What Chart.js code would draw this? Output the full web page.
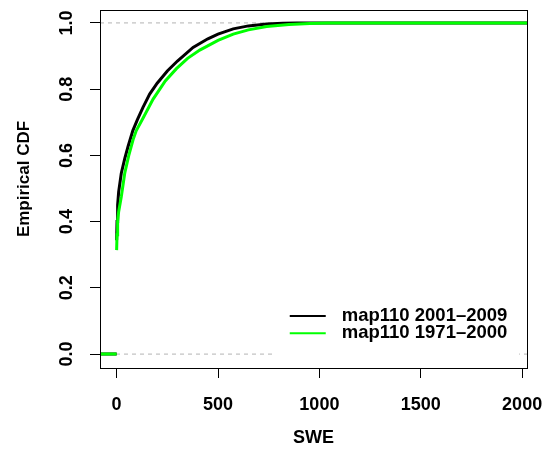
<!DOCTYPE html>
<html>
<head>
<meta charset="utf-8">
<script src="https://cdn.jsdelivr.net/npm/chart.js@4.4.1/dist/chart.umd.min.js"></script>
<style>
html,body{margin:0;padding:0;background:#fff;}
canvas{display:block;}
</style>
</head>
<body>
<canvas id="c" width="548" height="458"></canvas>
<script>
// ---- data ----
const xMin = -82;          // left end of x range
const xMax = 2024;         // right end of x range
const yMin = -0.042;
const yMax = 1.039;
const xTicks = [0, 500, 1000, 1500, 2000];
const yTicks = [0, 0.2, 0.4, 0.6, 0.8, 1.0];
const yTickLabels = ["0.0", "0.2", "0.4", "0.6", "0.8", "1.0"];
const refLines = [0, 1];

const series2001Label = "map110 2001\u20132009";
const swe2001 = [0, 2, 5, 10, 23, 40, 56, 80, 102, 130, 163, 200, 250, 300, 377, 450, 500, 575, 650, 740, 820, 890, 2024];
const cdf2001 = [0.344, 0.40, 0.45, 0.49, 0.546, 0.59, 0.626, 0.675, 0.707, 0.745, 0.785, 0.818, 0.855, 0.885, 0.926, 0.952, 0.966, 0.982, 0.991, 0.997, 0.999, 1.0, 1.0];

const series1971Label = "map110 1971\u20132000";
const swe1971 = [0, 2, 5, 10, 23, 40, 60, 81, 97, 130, 180, 240, 295, 350, 410, 500, 575, 650, 740, 850, 953, 1040, 2024];
const cdf1971 = [0.314, 0.36, 0.40, 0.43, 0.475, 0.546, 0.60, 0.647, 0.675, 0.712, 0.77, 0.825, 0.862, 0.893, 0.918, 0.947, 0.966, 0.979, 0.989, 0.995, 0.998, 1.0, 1.0];

// ---- build library data ----
function ecdfPoints(xs, ys) {
  // left extension at F=0, then a gap (no vertical jump drawn), then the curve
  const pts = [{x: xMin, y: 0}, {x: xs[0], y: 0}, {x: xs[0], y: null}];
  xs.forEach((v, i) => pts.push({x: v, y: ys[i]}));
  return pts;
}

const FONT = "'Liberation Sans', Arial, Helvetica, sans-serif";

const datasets = [
  {label: series1971Label, data: ecdfPoints(swe1971, cdf1971), borderColor: '#00ff00', borderWidth: 3, pointRadius: 0, tension: 0, spanGaps: false},
  {label: series2001Label, data: ecdfPoints(swe2001, cdf2001), borderColor: '#000000', borderWidth: 3, pointRadius: 0, tension: 0, spanGaps: false}
];
refLines.forEach(h => datasets.push({
  label: 'ref' + h, data: [{x: xMin, y: h}, {x: xMax, y: h}],
  borderColor: '#b3b3b3', borderWidth: 1, borderDash: [4, 4], pointRadius: 0
}));

const legendItems = [
  {text: series2001Label, color: '#000000'},
  {text: series1971Label, color: '#00ff00'}
];

const overlay = {
  id: 'overlay',
  afterDatasetsDraw(chart) {
    const ctx = chart.ctx;
    const ys = chart.scales.y;
    const xs = chart.scales.x;
    // legend with white background
    const bx = xs.getPixelForValue(770), bxr = xs.getPixelForValue(1985);
    const by = ys.getPixelForValue(0.165), byb = ys.getPixelForValue(-0.025);
    ctx.save();
    ctx.fillStyle = '#fff';
    ctx.fillRect(bx, by, bxr - bx, byb - by);
    ctx.font = 'bold 18.5px ' + FONT;
    ctx.textBaseline = 'middle';
    ctx.textAlign = 'left';
    const rowY = [ys.getPixelForValue(0.115), ys.getPixelForValue(0.063)];
    legendItems.forEach((it, i) => {
      ctx.strokeStyle = it.color;
      ctx.lineWidth = 2;
      ctx.beginPath();
      ctx.moveTo(bx + 17, rowY[i]);
      ctx.lineTo(bx + 53, rowY[i]);
      ctx.stroke();
      ctx.fillStyle = '#000';
      ctx.fillText(it.text, bx + 69, rowY[i]);
    });
    ctx.restore();
  },
  afterDraw(chart) {
    const ctx = chart.ctx;
    const a = chart.chartArea;
    const ys = chart.scales.y;
    ctx.save();
    // box around plot region
    ctx.strokeStyle = '#000';
    ctx.lineWidth = 1;
    ctx.strokeRect(Math.round(a.left) + 0.5, Math.round(a.top) + 0.5, Math.round(a.right - a.left), Math.round(a.bottom - a.top));
    // rotated y tick labels
    ctx.fillStyle = '#000';
    ctx.font = 'bold 18px ' + FONT;
    ctx.textAlign = 'center';
    ctx.textBaseline = 'middle';
    yTicks.forEach((v, i) => {
      const py = ys.getPixelForValue(v);
      ctx.save();
      ctx.translate(67, py);
      ctx.rotate(-Math.PI / 2);
      ctx.fillText(yTickLabels[i], 0, 0);
      ctx.restore();
    });
    // y axis title
    ctx.font = 'bold 17px ' + FONT;
    ctx.save();
    ctx.translate(24, (a.top + a.bottom) / 2 - 10);
    ctx.rotate(-Math.PI / 2);
    ctx.fillText('Empirical CDF', 0, 0);
    ctx.restore();
    ctx.restore();
  }
};

new Chart(document.getElementById('c'), {
  type: 'line',
  data: {datasets},
  options: {
    responsive: false,
    devicePixelRatio: 1,
    animation: false,
    layout: {padding: {left: 0, top: 10, right: 21, bottom: 0}},
    plugins: {legend: {display: false}, tooltip: {enabled: false}},
    scales: {
      x: {
        type: 'linear', min: xMin, max: xMax,
        afterBuildTicks: s => { s.ticks = xTicks.map(v => ({value: v})); },
        afterFit: s => { s.height = 90; s.paddingLeft = 0; s.paddingRight = 0; },
        grid: {display: true, drawOnChartArea: false, drawTicks: true, tickLength: 10, color: '#000'},
        border: {display: true, color: '#000'},
        ticks: {color: '#000', font: {family: FONT, size: 18, weight: 'bold'}, padding: 16, maxRotation: 0, autoSkip: false, callback: v => String(v)},
        title: {display: true, text: 'SWE', color: '#000', font: {family: FONT, size: 18, weight: 'bold'}, padding: {top: 0, bottom: 9}}
      },
      y: {
        type: 'linear', min: yMin, max: yMax,
        afterBuildTicks: s => { s.ticks = yTicks.map(v => ({value: v})); },
        afterFit: s => { s.width = 100; s.paddingTop = 0; s.paddingBottom = 0; },
        grid: {display: true, drawOnChartArea: false, drawTicks: true, tickLength: 10, color: '#000'},
        border: {display: true, color: '#000'},
        ticks: {display: false},
        title: {display: false}
      }
    }
  },
  plugins: [overlay]
});
</script>
</body>
</html>
